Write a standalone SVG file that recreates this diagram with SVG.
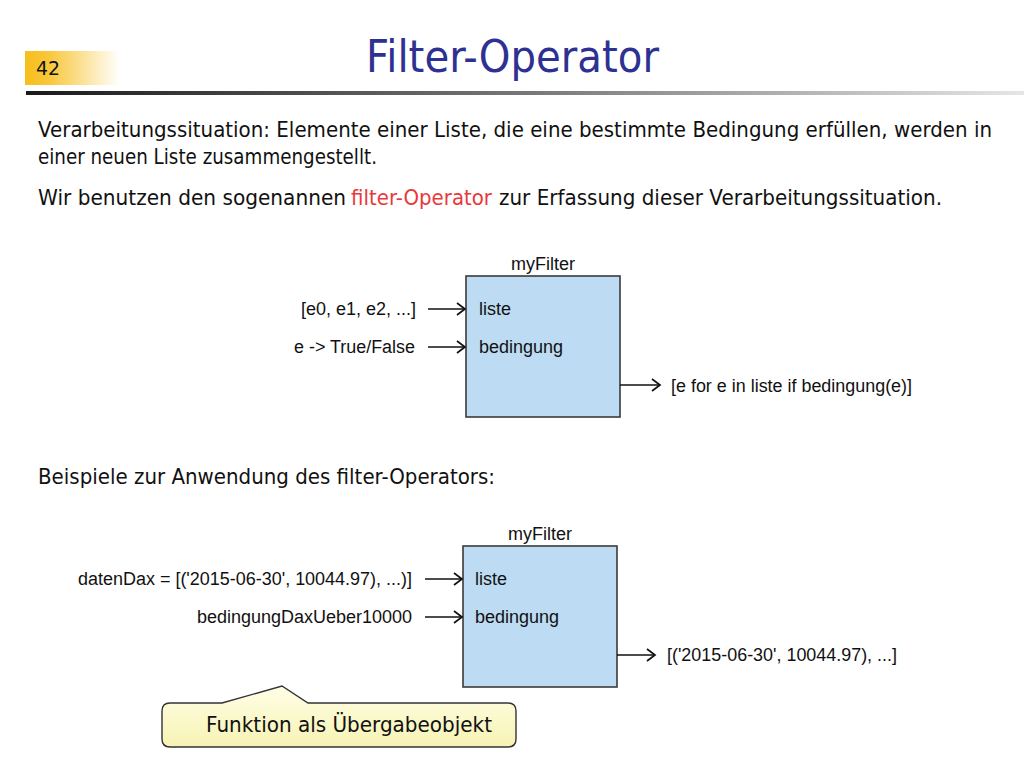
<svg xmlns="http://www.w3.org/2000/svg" width="1024" height="768" viewBox="0 0 1024 768">
<defs>
<linearGradient id="numGrad" x1="0" y1="0" x2="1" y2="0">
<stop offset="0" stop-color="#f6bf1c"/>
<stop offset="0.25" stop-color="#f8c73a"/>
<stop offset="1" stop-color="#ffffff"/>
</linearGradient>
<linearGradient id="ruleGrad" x1="0" y1="0" x2="1" y2="0">
<stop offset="0" stop-color="#1a1a1a"/>
<stop offset="0.5" stop-color="#777777"/>
<stop offset="1" stop-color="#e6e6e6"/>
</linearGradient>
<linearGradient id="noteGrad" x1="0" y1="0" x2="0" y2="1">
<stop offset="0" stop-color="#fffee6"/>
<stop offset="1" stop-color="#f7f3b4"/>
</linearGradient>
<marker id="arr" markerUnits="userSpaceOnUse" markerWidth="14" markerHeight="14" viewBox="0 0 14 14" refX="12" refY="7" orient="auto">
<path d="M4,1 L12,7 L4,13" fill="none" stroke="#111" stroke-width="1.7"/>
</marker>
<style>
.body{font-family:"DejaVu Sans","Liberation Sans",sans-serif;font-size:20.5px;fill:#111}
.lbl{font-family:"Liberation Sans",Arial,sans-serif;font-size:18px;fill:#111}
.box{fill:#bddcf3;stroke:#3a3a3a;stroke-width:1.6}
.con{stroke:#111;stroke-width:1.7;fill:none}
</style>
</defs>
<rect width="1024" height="768" fill="#ffffff"/>

<g id="header">
<rect x="25" y="51" width="95" height="34" fill="url(#numGrad)"/>
<text x="36" y="75" style="font-family:'DejaVu Sans',sans-serif;font-size:20px;fill:#111" textLength="24" lengthAdjust="spacingAndGlyphs">42</text>
<text x="366" y="72" style="font-family:'DejaVu Sans',sans-serif;font-size:44px;fill:#2e3192" textLength="293" lengthAdjust="spacingAndGlyphs">Filter-Operator</text>
<rect x="26" y="91" width="998" height="4" fill="url(#ruleGrad)"/>
</g>

<g id="intro">
<text class="body" x="38" y="137" textLength="954" lengthAdjust="spacingAndGlyphs">Verarbeitungssituation: Elemente einer Liste, die eine bestimmte Bedingung erfüllen, werden in</text>
<text class="body" x="38" y="164" textLength="339" lengthAdjust="spacingAndGlyphs">einer neuen Liste zusammengestellt.</text>
<text class="body" x="38" y="205" textLength="308" lengthAdjust="spacingAndGlyphs">Wir benutzen den sogenannen</text>
<text class="body" x="351" y="205" textLength="141" lengthAdjust="spacingAndGlyphs" style="fill:#e8393c">filter-Operator</text>
<text class="body" x="499" y="205" textLength="443" lengthAdjust="spacingAndGlyphs">zur Erfassung dieser Verarbeitungssituation.</text>
<text class="body" x="38" y="484" textLength="457" lengthAdjust="spacingAndGlyphs">Beispiele zur Anwendung des filter-Operators:</text>
</g>

<g id="node-myFilter-1">
<rect class="box" x="466" y="276" width="154" height="141"/>
<text class="lbl" x="543" y="270" text-anchor="middle">myFilter</text>
<text class="lbl" x="479" y="315">liste</text>
<text class="lbl" x="479" y="353">bedingung</text>
</g>
<g id="input-labels-1">
<text class="lbl" x="416" y="315" text-anchor="end" textLength="115" lengthAdjust="spacingAndGlyphs">[e0, e1, e2, ...]</text>
<text class="lbl" x="415" y="353" text-anchor="end" textLength="121" lengthAdjust="spacingAndGlyphs">e -&gt; True/False</text>
<text class="lbl" x="671" y="392" textLength="241" lengthAdjust="spacingAndGlyphs">[e for e in liste if bedingung(e)]</text>
</g>

<g id="node-myFilter-2">
<rect class="box" x="463" y="546" width="154" height="141"/>
<text class="lbl" x="540" y="540" text-anchor="middle">myFilter</text>
<text class="lbl" x="475" y="585">liste</text>
<text class="lbl" x="475" y="623">bedingung</text>
</g>
<g id="input-labels-2">
<text class="lbl" x="412" y="585" text-anchor="end" textLength="334" lengthAdjust="spacingAndGlyphs">datenDax = [('2015-06-30', 10044.97), ...)]</text>
<text class="lbl" x="412" y="623" text-anchor="end" textLength="215" lengthAdjust="spacingAndGlyphs">bedingungDaxUeber10000</text>
<text class="lbl" x="667" y="661" textLength="230" lengthAdjust="spacingAndGlyphs">[('2015-06-30', 10044.97), ...]</text>
</g>

<g id="connectors">
<line class="con" x1="428" y1="309" x2="465" y2="309" marker-end="url(#arr)"/>
<line class="con" x1="428" y1="347" x2="465" y2="347" marker-end="url(#arr)"/>
<line class="con" x1="620" y1="385" x2="660" y2="385" marker-end="url(#arr)"/>
<line class="con" x1="425" y1="579" x2="462" y2="579" marker-end="url(#arr)"/>
<line class="con" x1="425" y1="617" x2="462" y2="617" marker-end="url(#arr)"/>
<line class="con" x1="617" y1="655" x2="655" y2="655" marker-end="url(#arr)"/>
</g>

<g id="callout">
<path d="M170,703 L222,703 L282,686 L308,703 L508,703 Q516,703 516,711 L516,739 Q516,747 508,747 L170,747 Q162,747 162,739 L162,711 Q162,703 170,703 Z" fill="url(#noteGrad)" stroke="#333" stroke-width="1.4"/>
<text x="206" y="732" style="font-family:'DejaVu Sans',sans-serif;font-size:20.5px;fill:#111" textLength="286" lengthAdjust="spacingAndGlyphs">Funktion als Übergabeobjekt</text>
</g>
</svg>
